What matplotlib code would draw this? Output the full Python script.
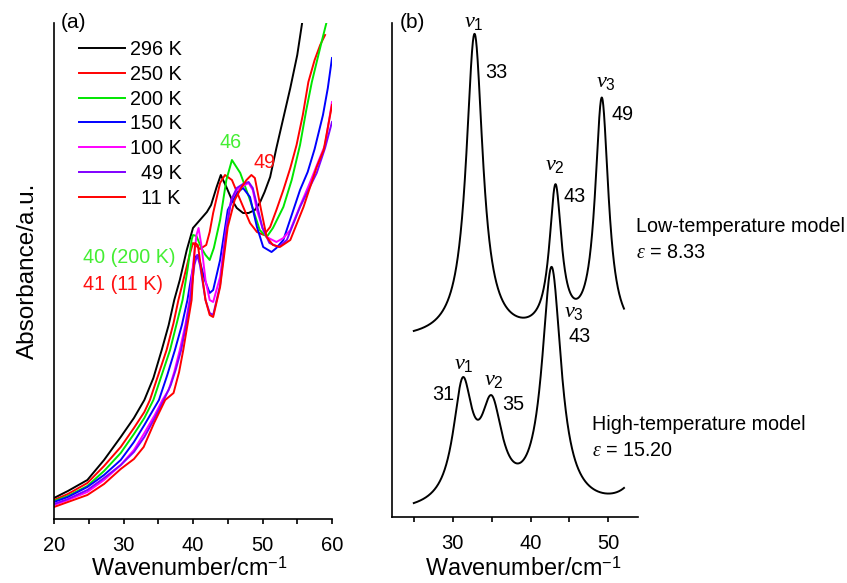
import numpy as np
import matplotlib
matplotlib.use("Agg")
import matplotlib.pyplot as plt

plt.rcParams['font.family'] = ['Liberation Sans', 'DejaVu Sans']
plt.rcParams['mathtext.fontset'] = 'custom'
plt.rcParams['mathtext.rm'] = 'Liberation Sans'
plt.rcParams['mathtext.it'] = 'Liberation Serif:italic'
plt.rcParams['mathtext.bf'] = 'Liberation Sans:bold'

W, H = 847, 583

# ---------------- Panel (a): measured spectra ----------------
labels_a = ["296 K", "250 K", "200 K", "150 K", "100 K", "  49 K", "  11 K"]
colors_a = ["#000000", "#ff0000", "#00e600", "#0000ff", "#ff00ff", "#8000ff", "#ff0000"]

x_296 = [20, 22, 24.8, 27.2, 29.6, 31.5, 33.0, 34.3, 35.5, 36.5, 37.3, 38.1, 39.1, 40.0, 41.0, 42.0,
         42.6, 43.4, 44.0, 44.8, 45.6, 46.3, 47.2, 48.0, 48.9, 49.6, 50.3, 51.1, 52.0, 53.0, 54.0, 55.0,
         55.7, 56.0]
y_296 = [0.21, 0.28, 0.39, 0.59, 0.82, 1.01, 1.19, 1.41, 1.69, 1.94, 2.19, 2.39, 2.69, 2.91, 2.99, 3.07,
         3.14, 3.32, 3.44, 3.32, 3.19, 3.11, 3.06, 3.06, 3.09, 3.16, 3.27, 3.42, 3.71, 4.01, 4.31, 4.64,
         4.96, 5.09]

x_250 = [20, 22, 24.8, 27.2, 29.6, 31.5, 33.0, 33.8, 35.0, 36.2, 37.2, 37.9, 38.8, 39.5, 40.0, 40.5,
         41.0, 41.9, 42.4, 42.9, 43.9, 44.6, 45.6, 46.8, 48.2, 49.2, 50.2, 51.1, 52.0, 53.0, 54.0, 54.9,
         55.8, 56.6, 57.5, 58.3, 59.0]
y_250 = [0.19, 0.25, 0.36, 0.53, 0.72, 0.91, 1.07, 1.19, 1.44, 1.69, 1.96, 2.19, 2.44, 2.64, 2.76, 2.73,
         2.70, 2.74, 2.87, 3.06, 3.36, 3.44, 3.39, 3.19, 2.96, 2.87, 2.84, 2.92, 3.09, 3.29, 3.51, 3.74,
         4.04, 4.37, 4.59, 4.74, 4.84]

x_200 = [20, 22, 24.8, 27.2, 29.6, 31.5, 33.0, 34.3, 35.5, 36.7, 37.6, 38.5, 39.2, 39.8, 40.0, 40.5,
         41.2, 41.8, 42.4, 43.0, 43.9, 44.8, 45.6, 46.8, 48.2, 49.6, 50.6, 51.5, 53.0, 54.2, 55.4, 56.3,
         57.1, 58.5, 59.3]
y_200 = [0.18, 0.23, 0.33, 0.48, 0.66, 0.85, 1.01, 1.19, 1.44, 1.69, 1.94, 2.19, 2.49, 2.79, 2.84, 2.83,
         2.71, 2.64, 2.59, 2.71, 2.99, 3.39, 3.59, 3.46, 3.19, 2.89, 2.82, 2.91, 3.12, 3.39, 3.74, 4.09,
         4.37, 4.77, 4.99]

x_150 = [20, 22, 24.8, 27.2, 29.6, 31.5, 33.0, 35.1, 36.3, 37.4, 38.4, 39.2, 39.8, 40.3, 40.7, 41.0,
         41.7, 42.4, 42.9, 43.9, 45.0, 46.3, 47.2, 48.2, 49.2, 50.1, 51.3, 52.0, 53.0, 54.2, 55.4, 56.5,
         57.5, 58.7, 59.4, 60.0]
y_150 = [0.17, 0.22, 0.32, 0.44, 0.59, 0.77, 0.94, 1.19, 1.44, 1.69, 1.94, 2.19, 2.44, 2.62, 2.64, 2.57,
         2.39, 2.26, 2.29, 2.59, 3.09, 3.26, 3.31, 3.22, 2.92, 2.72, 2.67, 2.71, 2.79, 3.04, 3.29, 3.47,
         3.70, 4.04, 4.31, 4.61]

x_100 = [20, 22, 24.8, 27.2, 29.6, 31.5, 33.0, 34.5, 35.6, 36.5, 37.3, 38.1, 38.9, 39.5, 40.0, 40.5,
         40.8, 41.2, 41.8, 42.4, 42.9, 43.9, 44.8, 45.5, 46.3, 47.2, 48.0, 48.6, 49.2, 50.0, 50.6, 52.0,
         53.0, 54.0, 55.4, 56.8, 58.0, 59.0, 60.0]
y_100 = [0.14, 0.19, 0.27, 0.39, 0.54, 0.69, 0.86, 1.04, 1.19, 1.29, 1.47, 1.69, 1.94, 2.19, 2.54, 2.84,
         2.91, 2.74, 2.39, 2.19, 2.17, 2.42, 2.92, 3.19, 3.29, 3.33, 3.36, 3.29, 3.09, 2.91, 2.82, 2.77,
         2.81, 2.89, 3.13, 3.36, 3.57, 3.74, 4.17]

x_49 = [20, 22, 24.8, 27.2, 29.6, 31.5, 33.0, 34.5, 35.8, 36.8, 37.5, 38.3, 39.0, 39.6, 40.2, 40.6,
        41.0, 41.8, 42.4, 42.9, 43.9, 44.8, 45.5, 46.3, 47.2, 48.0, 48.6, 49.2, 50.0, 51.0, 52.3, 53.5,
        55.4, 57.8, 59.0, 60.0]
y_49 = [0.15, 0.20, 0.29, 0.41, 0.54, 0.67, 0.82, 1.01, 1.19, 1.34, 1.49, 1.69, 1.94, 2.19, 2.54, 2.64,
        2.54, 2.19, 2.06, 2.04, 2.34, 2.89, 3.19, 3.31, 3.35, 3.37, 3.31, 3.14, 2.91, 2.76, 2.72, 2.79,
        3.12, 3.46, 3.71, 3.97]

x_11 = [20, 22, 24.8, 27.2, 29.6, 31.5, 32.9, 34.4, 36.0, 37.2, 38.0, 38.6, 39.2, 39.8, 40.1, 40.3,
        40.7, 41.2, 41.8, 42.4, 42.9, 43.9, 45.0, 46.0, 47.0, 47.7, 48.4, 48.9, 49.8, 50.6, 51.5, 52.5,
        54.0, 55.9, 57.8, 58.8, 60.0]
y_11 = [0.12, 0.17, 0.24, 0.35, 0.50, 0.60, 0.72, 0.96, 1.19, 1.26, 1.47, 1.69, 1.94, 2.19, 2.54, 2.76,
        2.74, 2.49, 2.19, 2.04, 2.02, 2.32, 2.92, 3.19, 3.32, 3.39, 3.44, 3.41, 3.09, 2.82, 2.74, 2.72,
        2.79, 3.12, 3.52, 3.69, 4.14]

series_a = [(x_296, y_296), (x_250, y_250), (x_200, y_200), (x_150, y_150),
            (x_100, y_100), (x_49, y_49), (x_11, y_11)]

# ---------------- Panel (b): Lorentzian model spectra ----------------
# low-temperature model (eps = 8.33): peak centres, heights, half-widths
low_centers = [32.8, 43.2, 49.15]
low_heights = [3.04, 1.44, 2.37]
low_hwhm = [1.3, 0.95, 1.05]
low_base = 1.77
# high-temperature model (eps = 15.20)
high_centers = [31.28, 35.0, 42.7, 56.0]
high_heights = [1.16, 0.93, 2.39, 1.5]
high_hwhm = [1.5, 1.7, 1.5, 1.5]
high_base = 0.03
model_range = (25, 52)


def lorentz_sum(x, centers, heights, widths, base):
    y = np.full_like(x, base, dtype=float)
    for c, a, g in zip(centers, heights, widths):
        y += a / (1.0 + ((x - c) / g) ** 2)
    return y


fig = plt.figure(figsize=(W / 100, H / 100), dpi=100)

def fx(px):
    return px / W

def fy(py):
    return 1 - py / H

ax_a = fig.add_axes([fx(54), fy(519), (332 - 54) / W, (519 - 23) / H])
ax_b = fig.add_axes([fx(392), fy(517), (638 - 392) / W, (517 - 23) / H])

lw = 1.4
for (xs, ys), lab, col in zip(series_a, labels_a, colors_a):
    ax_a.plot(xs, ys, color=col, lw=lw, label=lab)

ax_a.set_xlim(20, 60)
ax_a.set_ylim(0, 4.96)

xm = np.linspace(model_range[0], model_range[1], 1200)
ax_b.plot(xm, lorentz_sum(xm, low_centers, low_heights, low_hwhm, low_base), color='black', lw=lw)
ax_b.plot(xm, lorentz_sum(xm, high_centers, high_heights, high_hwhm, high_base), color='black', lw=lw)
ax_b.set_xlim(22.2, 53.8)
ax_b.set_ylim(0, 4.94)

for ax, ticks, labs in [(ax_a, np.arange(20, 61, 5), [20, 30, 40, 50, 60]),
                        (ax_b, np.arange(25, 51, 5), [30, 40, 50])]:
    for s in ['top', 'right']:
        ax.spines[s].set_visible(False)
    ax.spines['left'].set_linewidth(1.2)
    ax.spines['bottom'].set_linewidth(1.2)
    ax.set_yticks([])
    ax.set_xticks(ticks)
    ax.set_xticklabels([str(int(t)) if int(t) in labs else '' for t in ticks])
    ax.tick_params(axis='x', direction='out', length=3.5, width=1.2, labelsize=14.5, pad=9)
    ax.set_xlabel('Wavenumber/cm$^{\\mathrm{-1}}$', fontsize=16.8)

ax_a.xaxis.set_label_coords((189.5 - 54) / 278, (519 - 557) / 496)
ax_b.xaxis.set_label_coords((523 - 392) / 246, (517 - 557) / 494)

ax_a.set_ylabel('Absorbance/a.u.', fontsize=17.5, labelpad=11)

leg = ax_a.legend(loc='upper left', bbox_to_anchor=((79 - 54) / 278, (519 - 40) / 496),
                  frameon=False, fontsize=14.3, handlelength=2.3, handletextpad=0.25,
                  labelspacing=0.29, borderpad=0, borderaxespad=0)

fs = 14.2
green_lbl = '#44ee33'
red_lbl = '#ff1010'
fig.text(fx(61), fy(23), '(a)', fontsize=15, va='center', ha='left')
fig.text(fx(400), fy(23), '(b)', fontsize=15, va='center', ha='left')
fig.text(fx(231), fy(143), '46', fontsize=fs, color=green_lbl, ha='center', va='center')
fig.text(fx(265), fy(162), '49', fontsize=fs, color=red_lbl, ha='center', va='center')
fig.text(fx(83), fy(258), '40 (200 K)', fontsize=fs, color=green_lbl, ha='left', va='center')
fig.text(fx(83), fy(284), '41 (11 K)', fontsize=fs, color=red_lbl, ha='left', va='center')

def nu(i):
    return '$\\nu_{\\mathit{%d}}$' % i

fs_nu = 16
fig.text(fx(474), fy(21), nu(1), fontsize=fs_nu, ha='center', va='center')
fig.text(fx(496), fy(73), '33', fontsize=fs, ha='center', va='center')
fig.text(fx(555), fy(165), nu(2), fontsize=fs_nu, ha='center', va='center')
fig.text(fx(575), fy(197), '43', fontsize=fs, ha='center', va='center')
fig.text(fx(606), fy(82), nu(3), fontsize=fs_nu, ha='center', va='center')
fig.text(fx(622), fy(114), '49', fontsize=fs, ha='center', va='center')
fig.text(fx(636), fy(227), 'Low-temperature model', fontsize=fs, ha='left', va='center')
fig.text(fx(636), fy(253), '$\\varepsilon$ = 8.33', fontsize=fs, ha='left', va='center')

fig.text(fx(574), fy(311), nu(3), fontsize=fs_nu, ha='center', va='center')
fig.text(fx(580), fy(337), '43', fontsize=fs, ha='center', va='center')
fig.text(fx(464), fy(363), nu(1), fontsize=fs_nu, ha='center', va='center')
fig.text(fx(443), fy(394), '31', fontsize=fs, ha='center', va='center')
fig.text(fx(494), fy(380), nu(2), fontsize=fs_nu, ha='center', va='center')
fig.text(fx(513), fy(404), '35', fontsize=fs, ha='center', va='center')
fig.text(fx(592), fy(425), 'High-temperature model', fontsize=fs, ha='left', va='center')
fig.text(fx(592), fy(451), '$\\varepsilon$ = 15.20', fontsize=fs, ha='left', va='center')

fig.savefig('out.png', dpi=100)
